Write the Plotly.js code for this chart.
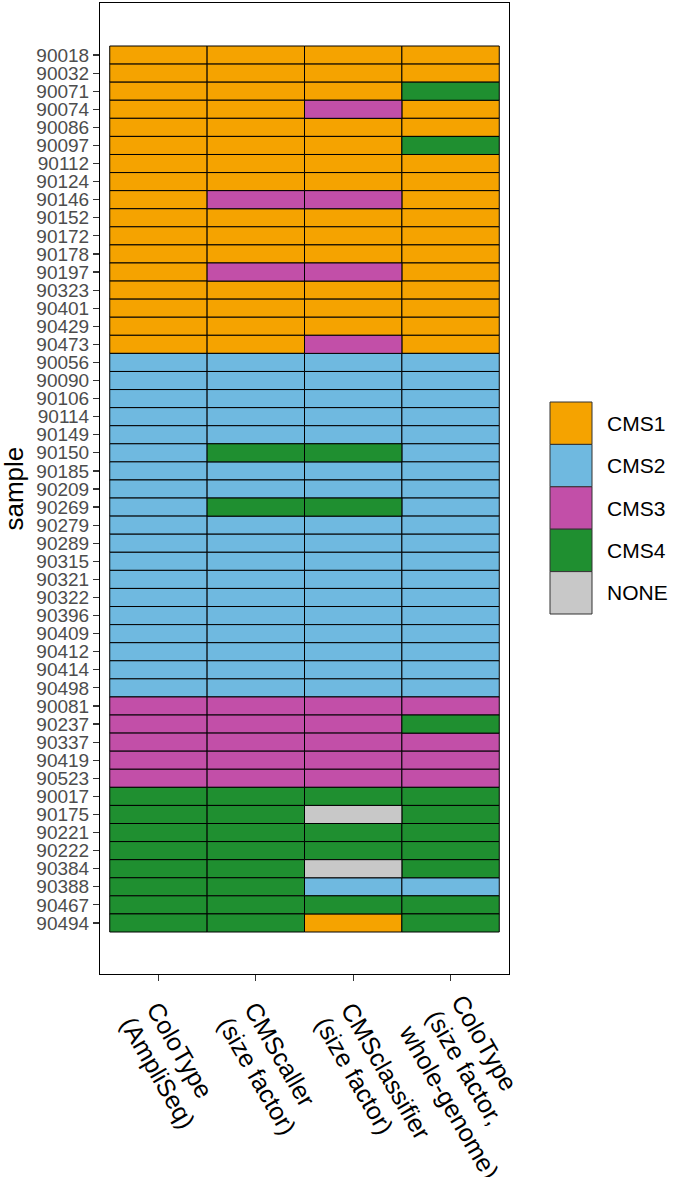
<!DOCTYPE html>
<html>
<head>
<meta charset="utf-8">
<script src="https://cdn.plot.ly/plotly-3.0.1.min.js"></script>
<style>html,body{margin:0;padding:0;background:#fff;}#chart{width:685px;height:1177px;}</style>
</head>
<body>
<div id="chart"></div>
<script>
// ---- data ----
const samples = ["90018","90032","90071","90074","90086","90097","90112","90124","90146","90152","90172","90178","90197","90323","90401","90429","90473",
  "90056","90090","90106","90114","90149","90150","90185","90209","90269","90279","90289","90315","90321","90322","90396","90409","90412","90414","90498",
  "90081","90237","90337","90419","90523",
  "90017","90175","90221","90222","90384","90388","90467","90494"];
const methods = [["ColoType", "(AmpliSeq)"], ["CMScaller", "(size factor)"], ["CMSclassifier", "(size factor)"], ["ColoType", "(size factor,", "whole-genome)"]];
const classes = ["CMS1","CMS2","CMS3","CMS4","NONE"];
const classColors = ["#F5A300","#6FB9E0","#C24FA8","#1F8F30","#C8C8C8"];
const yTitle = "sample";

const coloTypeAmpliSeq = ["CMS1","CMS1","CMS1","CMS1","CMS1","CMS1","CMS1","CMS1","CMS1","CMS1","CMS1","CMS1","CMS1","CMS1","CMS1","CMS1","CMS1",
  "CMS2","CMS2","CMS2","CMS2","CMS2","CMS2","CMS2","CMS2","CMS2","CMS2","CMS2","CMS2","CMS2","CMS2","CMS2","CMS2","CMS2","CMS2","CMS2",
  "CMS3","CMS3","CMS3","CMS3","CMS3",
  "CMS4","CMS4","CMS4","CMS4","CMS4","CMS4","CMS4","CMS4"];
const cmsCaller = ["CMS1","CMS1","CMS1","CMS1","CMS1","CMS1","CMS1","CMS1","CMS3","CMS1","CMS1","CMS1","CMS3","CMS1","CMS1","CMS1","CMS1",
  "CMS2","CMS2","CMS2","CMS2","CMS2","CMS4","CMS2","CMS2","CMS4","CMS2","CMS2","CMS2","CMS2","CMS2","CMS2","CMS2","CMS2","CMS2","CMS2",
  "CMS3","CMS3","CMS3","CMS3","CMS3",
  "CMS4","CMS4","CMS4","CMS4","CMS4","CMS4","CMS4","CMS4"];
const cmsClassifier = ["CMS1","CMS1","CMS1","CMS3","CMS1","CMS1","CMS1","CMS1","CMS3","CMS1","CMS1","CMS1","CMS3","CMS1","CMS1","CMS1","CMS3",
  "CMS2","CMS2","CMS2","CMS2","CMS2","CMS4","CMS2","CMS2","CMS4","CMS2","CMS2","CMS2","CMS2","CMS2","CMS2","CMS2","CMS2","CMS2","CMS2",
  "CMS3","CMS3","CMS3","CMS3","CMS3",
  "CMS4","NONE","CMS4","CMS4","NONE","CMS2","CMS4","CMS1"];
const coloTypeWGS = ["CMS1","CMS1","CMS4","CMS1","CMS1","CMS4","CMS1","CMS1","CMS1","CMS1","CMS1","CMS1","CMS1","CMS1","CMS1","CMS1","CMS1",
  "CMS2","CMS2","CMS2","CMS2","CMS2","CMS2","CMS2","CMS2","CMS2","CMS2","CMS2","CMS2","CMS2","CMS2","CMS2","CMS2","CMS2","CMS2","CMS2",
  "CMS3","CMS4","CMS3","CMS3","CMS3",
  "CMS4","CMS4","CMS4","CMS4","CMS4","CMS2","CMS4","CMS4"];
const calls = [coloTypeAmpliSeq, cmsCaller, cmsClassifier, coloTypeWGS];

// ---- traces: one bar trace per class, one cell per bar ----
const traces = classes.map((cls, ci) => {
  const ys = [], xs = [], bases = [];
  calls.forEach((col, mi) => {
    col.forEach((v, si) => {
      if (v === cls) { ys.push(samples[si]); xs.push(1); bases.push(mi - 0.5); }
    });
  });
  return {
    type: "bar", orientation: "h", name: cls,
    y: ys, x: xs, base: bases, width: 1,
    marker: { color: classColors[ci], line: { color: "#000", width: 1 } },
    showlegend: false, hoverinfo: "skip"
  };
});

// ---- layout ----
const FONT = "Liberation Sans, Arial, sans-serif";
const W = 685, H = 1177;
const M = { l: 100, r: 176, t: 3, b: 203 };
const pw = W - M.l - M.r, ph = H - M.t - M.b;
const px = x => (x - M.l) / pw;
const py = y => 1 - (y - M.t) / ph;

const shapes = [], annotations = [];
// legend keys
const keyTop = 402, keyH = 42.4, keyL = 550, keyR = 592;
classes.forEach((cls, i) => {
  const y0 = keyTop + i * keyH, y1 = y0 + keyH;
  shapes.push({ type: "rect", xref: "paper", yref: "paper", x0: px(keyL), x1: px(keyR), y0: py(y1), y1: py(y0),
    fillcolor: classColors[i], line: { color: "#333", width: 1 } });
  annotations.push({ xref: "paper", yref: "paper", x: px(605), y: py((y0 + y1) / 2), xanchor: "left", yanchor: "middle",
    text: cls, showarrow: false, font: { family: FONT, size: 21, color: "#000" } });
});

// y axis title
annotations.push({ xref: "paper", yref: "paper", x: px(13), y: 0.5, xanchor: "center", yanchor: "middle",
  text: yTitle, textangle: -90, showarrow: false, borderpad: 0, font: { family: FONT, size: 26, color: "#000" } });

// rotated, left-aligned multi-line x labels (one annotation per line)
const XFS = 25, LH = 30, ANG = 60;
const ctx = document.createElement("canvas").getContext("2d");
ctx.font = XFS + "px 'Liberation Sans'";
const ux = Math.cos(ANG * Math.PI / 180), uy = Math.sin(ANG * Math.PI / 180);
const pX = -uy, pY = ux;
const axisBottom = M.t + ph;
const anchorDX = -18, anchorDY = 38;   // block left-middle point relative to tick foot
methods.forEach((lines, mi) => {
  const n = lines.length;
  lines.forEach((ln, i) => {
    const w = ctx.measureText(ln).width;
    const k = (i - (n - 1) / 2) * LH;
    const sx = anchorDX + k * pX, sy = axisBottom + anchorDY + k * pY;
    const cx = sx + (w / 2) * ux, cy = sy + (w / 2) * uy;
    annotations.push({ xref: "x", yref: "paper", x: mi, xshift: cx, y: py(cy), xanchor: "center", yanchor: "middle",
      text: ln, textangle: ANG, showarrow: false, borderpad: 0, font: { family: FONT, size: XFS, color: "#000" } });
  });
});

const layout = {
  width: W, height: H, margin: M,
  paper_bgcolor: "#fff", plot_bgcolor: "#fff",
  barmode: "overlay", showlegend: false,
  font: { family: FONT },
  xaxis: {
    range: [-0.6, 3.6], tickvals: [0, 1, 2, 3], showticklabels: false,
    showgrid: false, zeroline: false, showline: true, mirror: true, linecolor: "#000", linewidth: 1,
    ticks: "outside", ticklen: 6, tickwidth: 1.2, tickcolor: "#333"
  },
  yaxis: {
    type: "category", categoryorder: "array", categoryarray: samples.slice().reverse(),
    tickmode: "array", tickvals: samples, ticktext: samples,
    range: [-2.823, 50.878],
    showgrid: false, zeroline: false, showline: true, mirror: true, linecolor: "#000", linewidth: 1,
    ticks: "outside", ticklen: 6, tickwidth: 1.2, tickcolor: "#333",
    tickfont: { size: 19, color: "#4D4D4D" }
  },
  shapes: shapes, annotations: annotations
};

Plotly.newPlot("chart", traces, layout, { staticPlot: true, displayModeBar: false });
</script>
</body>
</html>
